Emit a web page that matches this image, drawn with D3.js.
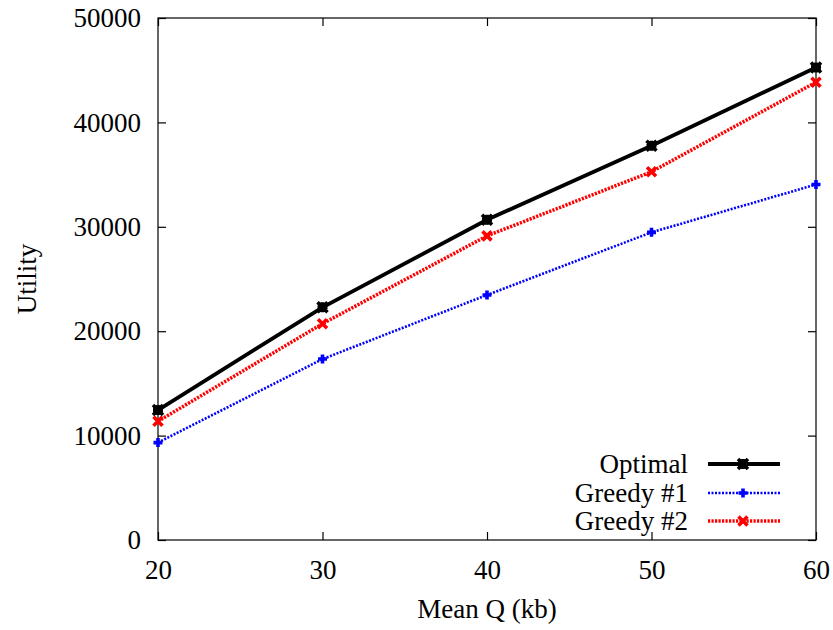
<!DOCTYPE html>
<meta charset="utf-8">
<script src="https://d3js.org/d3.v7.js"></script>
<style>
  body { margin: 0; background: #fff; }
</style>
<div id="my_dataviz"></div>
<script>
// data
var meanQ = [20, 30, 40, 50, 60];
var optimal = [12450, 22290, 30670, 37770, 45260];
var greedy1 = [9330, 17330, 23470, 29470, 34050];
var greedy2 = [11370, 20720, 29130, 35270, 43850];
var yTicks = [0, 10000, 20000, 30000, 40000, 50000];
var xTicks = [20, 30, 40, 50, 60];
var seriesNames = ["Optimal", "Greedy #1", "Greedy #2"];

var W = 833, H = 630;
var FONT = "'Liberation Serif'";
var margin = {top: 18, right: 17, bottom: 90, left: 158},
    width = W - margin.left - margin.right,
    height = H - margin.top - margin.bottom;

var svg = d3.select("#my_dataviz")
    .append("svg")
    .attr("width", W)
    .attr("height", H)
    .append("g")
    .attr("transform", "translate(" + margin.left + "," + margin.top + ")");

var x = d3.scaleLinear().domain([20, 60]).range([0, width]);
var y = d3.scaleLinear().domain([0, 50000]).range([height, 0]);

var fs = 27, tick = 8;

// frame
svg.append("rect")
    .attr("width", width).attr("height", height)
    .attr("fill", "none").attr("stroke", "#000").attr("stroke-width", 1.2);

// ticks (inward, mirrored like gnuplot)
svg.append("g").attr("transform", "translate(0," + height + ")")
    .call(d3.axisBottom(x).tickValues(xTicks).tickSize(-tick).tickPadding(tick + 12).tickFormat(d3.format("d")))
    .call(g => g.select(".domain").remove())
    .call(g => g.selectAll("text").attr("font-size", fs).attr("fill", "#000").style("font-family", FONT));
svg.append("g")
    .call(d3.axisTop(x).tickValues(xTicks).tickSize(-tick).tickFormat(""))
    .call(g => g.select(".domain").remove());
svg.append("g")
    .call(d3.axisLeft(y).tickValues(yTicks).tickSize(-tick).tickPadding(tick + 9).tickFormat(d3.format("d")))
    .call(g => g.select(".domain").remove())
    .call(g => g.selectAll("text").attr("font-size", fs).attr("fill", "#000").style("font-family", FONT));
svg.append("g").attr("transform", "translate(" + width + ",0)")
    .call(d3.axisRight(y).tickValues(yTicks).tickSize(-tick).tickFormat(""))
    .call(g => g.select(".domain").remove());
svg.selectAll(".tick line").attr("stroke", "#000").attr("stroke-width", 1.2);

// axis titles
svg.append("text")
    .attr("x", width / 2).attr("y", height + 78)
    .attr("text-anchor", "middle").attr("font-size", fs)
    .style("font-family", FONT)
    .text("Mean Q (kb)");
svg.append("text")
    .attr("transform", "translate(" + (-122) + "," + (height / 2) + ") rotate(-90)")
    .attr("text-anchor", "middle").attr("font-size", fs)
    .style("font-family", FONT)
    .text("Utility");

var series = [
    {name: seriesNames[0], values: optimal, color: "#000", width: 3.8, dash: null, marker: "star"},
    {name: seriesNames[1], values: greedy1, color: "#0000ff", width: 2.6, dash: "2,1.5", marker: "plus"},
    {name: seriesNames[2], values: greedy2, color: "#ff0000", width: 3.5, dash: "2.2,1.3", marker: "cross"}
];

var line = d3.line().x(d => x(d[0])).y(d => y(d[1]));

function drawMarker(g, type, cx, cy, color) {
    var s = type === "star" ? 5 : 4.5;
    var p;
    if (type === "plus") {
        p = "M" + (cx - s) + "," + cy + "H" + (cx + s) + "M" + cx + "," + (cy - s) + "V" + (cy + s);
    } else if (type === "cross") {
        p = "M" + (cx - s) + "," + (cy - s) + "L" + (cx + s) + "," + (cy + s) +
            "M" + (cx - s) + "," + (cy + s) + "L" + (cx + s) + "," + (cy - s);
    } else {
        p = "M" + (cx - s) + "," + cy + "H" + (cx + s) + "M" + cx + "," + (cy - s) + "V" + (cy + s) +
            "M" + (cx - s) + "," + (cy - s) + "L" + (cx + s) + "," + (cy + s) +
            "M" + (cx - s) + "," + (cy + s) + "L" + (cx + s) + "," + (cy - s);
    }
    g.append("path").attr("d", p).attr("stroke", color)
        .attr("stroke-width", 3.6).attr("fill", "none");
    if (type === "star") {
        g.append("rect").attr("x", cx - 4.5).attr("y", cy - 4.5).attr("width", 9).attr("height", 9).attr("fill", color);
    }
}

// draw series (blue first so black/red sit above)
[1, 2, 0].forEach(function (k) {
    var s = series[k];
    var pts = meanQ.map((q, i) => [q, s.values[i]]);
    svg.append("path")
        .datum(pts)
        .attr("fill", "none")
        .attr("stroke", s.color)
        .attr("stroke-width", s.width)
        .attr("stroke-dasharray", s.dash)
        .attr("d", line);
    var mg = svg.append("g");
    pts.forEach(d => drawMarker(mg, s.marker, x(d[0]), y(d[1]), s.color));
});

// legend
var legX = 692 - margin.left, legY = [464, 493, 521];
series.forEach(function (s, i) {
    var ly = legY[i] - margin.top;
    svg.append("text")
        .attr("x", legX - 4).attr("y", ly + 9)
        .attr("text-anchor", "end").attr("font-size", fs)
        .style("font-family", FONT)
        .text(s.name);
    svg.append("line")
        .attr("x1", legX + 16).attr("x2", legX + 88)
        .attr("y1", ly).attr("y2", ly)
        .attr("stroke", s.color).attr("stroke-width", s.width)
        .attr("stroke-dasharray", s.dash);
    drawMarker(svg.append("g"), s.marker, legX + 51, ly, s.color);
});
</script>
